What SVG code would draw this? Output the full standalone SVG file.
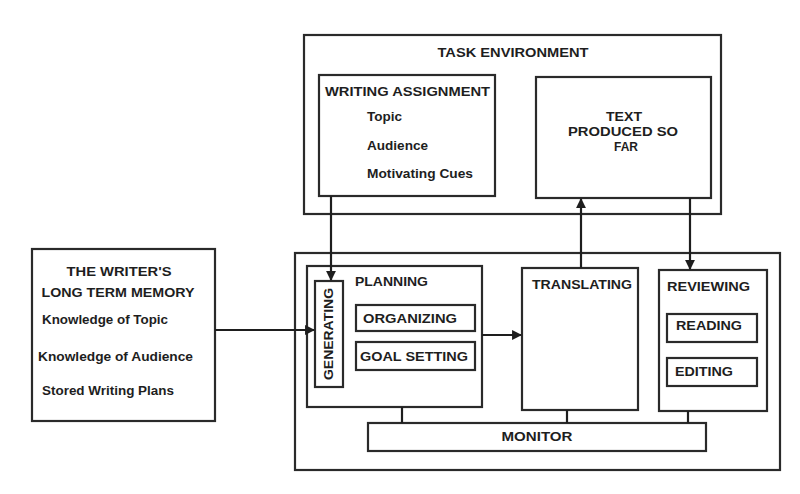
<svg xmlns="http://www.w3.org/2000/svg" width="800" height="494" viewBox="0 0 800 494">
<style>
rect.b{fill:none;stroke:#2a2a2a;stroke-width:2.2}
text{font-family:"Liberation Sans",Arial,sans-serif;font-size:12px;font-weight:bold;fill:#1e1e1e}
.c{text-anchor:middle}
.cn line{stroke:#1e1e1e;stroke-width:2.2}
</style>
<defs>
<marker id="ah" viewBox="0 0 10 10" refX="9" refY="5" markerWidth="4.5" markerHeight="4.5" orient="auto" markerUnits="strokeWidth">
<path d="M0,0 L10,5 L0,10 z" fill="#1e1e1e"/>
</marker>
</defs>
<rect width="800" height="494" fill="#fff"/>

<g id="task-environment">
<rect class="b" x="304" y="35" width="417" height="179"/>
<text class="c" x="513" y="57" textLength="151" lengthAdjust="spacingAndGlyphs">TASK ENVIRONMENT</text>
</g>
<g id="writing-assignment">
<rect class="b" x="319" y="75" width="176" height="121"/>
<text x="325" y="96" textLength="165" lengthAdjust="spacingAndGlyphs">WRITING ASSIGNMENT</text>
<text x="367" y="121" textLength="35" lengthAdjust="spacingAndGlyphs">Topic</text>
<text x="367" y="150" textLength="61" lengthAdjust="spacingAndGlyphs">Audience</text>
<text x="367" y="178" textLength="106" lengthAdjust="spacingAndGlyphs">Motivating Cues</text>
</g>
<g id="text-produced">
<rect class="b" x="536" y="77" width="175" height="121"/>
<text class="c" x="624" y="121" textLength="36" lengthAdjust="spacingAndGlyphs">TEXT</text>
<text class="c" x="623" y="136" textLength="110" lengthAdjust="spacingAndGlyphs">PRODUCED SO</text>
<text class="c" x="626" y="151">FAR</text>
</g>

<g id="long-term-memory">
<rect class="b" x="32" y="249" width="183" height="172"/>
<text class="c" x="119" y="276" textLength="105" lengthAdjust="spacingAndGlyphs">THE WRITER'S</text>
<text class="c" x="118" y="297" textLength="153" lengthAdjust="spacingAndGlyphs">LONG TERM MEMORY</text>
<text x="42" y="324" textLength="126" lengthAdjust="spacingAndGlyphs">Knowledge of Topic</text>
<text x="38" y="361" textLength="155" lengthAdjust="spacingAndGlyphs">Knowledge of Audience</text>
<text x="42" y="395" textLength="132" lengthAdjust="spacingAndGlyphs">Stored Writing Plans</text>
</g>

<g id="writing-process">
<rect class="b" x="295" y="253" width="485" height="217"/>
</g>
<g id="planning">
<rect class="b" x="307" y="266" width="175" height="141"/>
<text x="355" y="286" textLength="73" lengthAdjust="spacingAndGlyphs">PLANNING</text>
</g>
<g id="generating">
<rect class="b" x="315" y="281" width="28" height="106"/>
<text class="c" transform="translate(333,334) rotate(-90)" x="0" y="0" textLength="92" lengthAdjust="spacingAndGlyphs">GENERATING</text>
</g>
<g id="organizing">
<rect class="b" x="356" y="305" width="119" height="26"/>
<text x="363" y="323" textLength="94" lengthAdjust="spacingAndGlyphs">ORGANIZING</text>
</g>
<g id="goal-setting">
<rect class="b" x="356" y="342" width="119" height="28"/>
<text x="360" y="361" textLength="108" lengthAdjust="spacingAndGlyphs">GOAL SETTING</text>
</g>
<g id="translating">
<rect class="b" x="522" y="268" width="116" height="142"/>
<text x="532" y="289" textLength="100" lengthAdjust="spacingAndGlyphs">TRANSLATING</text>
</g>
<g id="reviewing">
<rect class="b" x="659" y="270" width="108" height="141"/>
<text x="667" y="291" textLength="83" lengthAdjust="spacingAndGlyphs">REVIEWING</text>
</g>
<g id="reading">
<rect class="b" x="667" y="314" width="90" height="28"/>
<text x="676" y="330" textLength="66" lengthAdjust="spacingAndGlyphs">READING</text>
</g>
<g id="editing">
<rect class="b" x="667" y="358" width="90" height="28"/>
<text x="675" y="376" textLength="58" lengthAdjust="spacingAndGlyphs">EDITING</text>
</g>
<g id="monitor">
<rect class="b" x="368" y="423" width="338" height="28"/>
<text class="c" x="537" y="441" textLength="71" lengthAdjust="spacingAndGlyphs">MONITOR</text>
</g>

<g id="connectors" class="cn">
<line x1="331" y1="196" x2="331" y2="280" marker-end="url(#ah)"/>
<line x1="581" y1="268" x2="581" y2="199" marker-end="url(#ah)"/>
<line x1="690" y1="198" x2="690" y2="269" marker-end="url(#ah)"/>
<line x1="215" y1="330" x2="314" y2="330" marker-end="url(#ah)"/>
<line x1="482" y1="335" x2="521" y2="335" marker-end="url(#ah)"/>
<line x1="402" y1="407" x2="402" y2="423"/>
<line x1="567" y1="410" x2="567" y2="423"/>
<line x1="688" y1="411" x2="688" y2="423"/>
</g>
</svg>
